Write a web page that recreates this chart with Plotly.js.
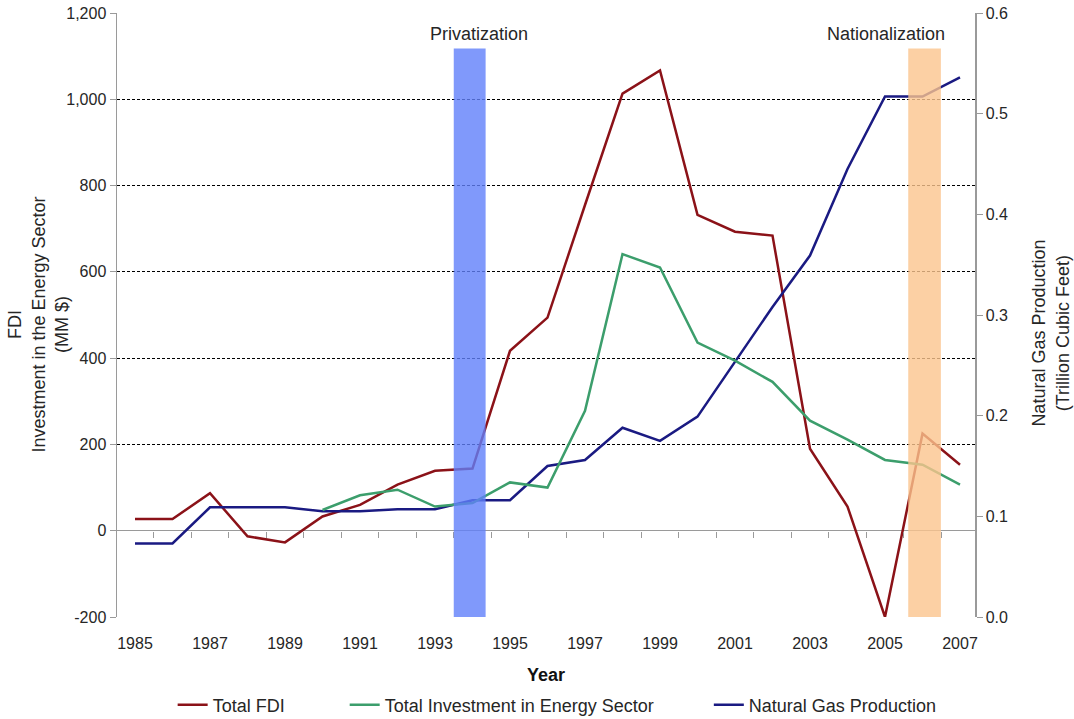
<!DOCTYPE html>
<html>
<head>
<meta charset="utf-8">
<script src="https://cdn.plot.ly/plotly-3.0.1.min.js"></script>
<style>
  html, body { margin: 0; padding: 0; background: #fff; }
  #chart { width: 1074px; height: 719px; }
</style>
</head>
<body>
<div id="chart"></div>
<script>
// Years on the x axis
const years = [1985, 1986, 1987, 1988, 1989, 1990, 1991, 1992, 1993, 1994, 1995,
               1996, 1997, 1998, 1999, 2000, 2001, 2002, 2003, 2004, 2005, 2006, 2007];

// Total foreign direct investment (MM $)
const totalFDI = [27, 27, 87, -13, -27, 33, 60, 107, 139, 144, 417,
                  494, 755, 1013, 1067, 732, 693, 684, 190, 56, -200, 225, 153];

// Total investment in the energy sector (MM $), reported from 1990
const energyInvestment = [null, null, null, null, null, 48, 82, 95, 56, 64, 112,
                          100, 278, 641, 610, 436, 394, 345, 255, 211, 164, 153, 107];

// Natural gas production (trillion cubic feet)
const gasProduction = [0.073, 0.073, 0.109, 0.109, 0.109, 0.105, 0.105, 0.107, 0.107, 0.116, 0.116,
                       0.150, 0.156, 0.188, 0.175, 0.199, 0.253, 0.308, 0.359, 0.445, 0.517, 0.517, 0.536];

// Policy periods highlighted on the chart
const eventNames = ['Privatization', 'Nationalization'];
const eventStart = [1993.5, 2005.62];
const eventEnd = [1994.35, 2006.49];
const eventColors = ['rgba(96,128,250,0.8)', 'rgba(251,196,141,0.8)'];
const eventLabelX = [1994.17, 2005.03];

// Tick labels
const yearTicks = years.filter((y, i) => i % 2 === 0);
const boundaryTicks = years.slice(0, -1).map(y => y + 0.5);
const leftTicks = [-200, 0, 200, 400, 600, 800, 1000, 1200];
const leftTickText = ['-200', '0', '200', '400', '600', '800', '1,000', '1,200'];
const rightTicks = [0, 0.1, 0.2, 0.3, 0.4, 0.5, 0.6];
const rightTickText = ['0.0', '0.1', '0.2', '0.3', '0.4', '0.5', '0.6'];

const font = 'Arial, "Liberation Sans", sans-serif';
const textColor = '#262626';
const axisGray = '#9a9a9a';
const pad = n => '\u00a0'.repeat(n);

const traces = [
  {
    x: years, y: totalFDI, name: 'Total FDI' + pad(11), type: 'scatter', mode: 'lines',
    line: { color: '#8b1218', width: 2.5 }, xaxis: 'x', yaxis: 'y'
  },
  {
    x: years, y: energyInvestment, name: 'Total Investment in Energy Sector' + pad(10), type: 'scatter', mode: 'lines',
    line: { color: '#3c9e6c', width: 2.5 }, xaxis: 'x2', yaxis: 'y'
  },
  {
    x: years, y: gasProduction, name: 'Natural Gas Production', type: 'scatter', mode: 'lines',
    line: { color: '#1a1a82', width: 2.5 }, xaxis: 'x', yaxis: 'y2'
  }
];

const shapes = eventNames.map((n, i) => ({
  type: 'rect', xref: 'x', yref: 'y',
  x0: eventStart[i], x1: eventEnd[i], y0: -207, y1: 1118,
  fillcolor: eventColors[i], line: { width: 0 }, layer: 'above'
}));

const annotations = eventNames.map((n, i) => ({
  text: n, xref: 'x', yref: 'paper', x: eventLabelX[i], y: 0.965,
  xanchor: 'center', yanchor: 'middle', showarrow: false,
  font: { family: font, size: 18, color: textColor }
}));

// Vertical axis titles
annotations.push({
  text: 'FDI<br>Investment in the Energy Sector<br>(MM $)',
  xref: 'paper', yref: 'paper', x: -0.091, y: 0.484, xanchor: 'center', yanchor: 'middle',
  textangle: -90, showarrow: false, font: { family: font, size: 18, color: textColor }
});
annotations.push({
  text: 'Natural Gas Production<br>(Trillion Cubic Feet)',
  xref: 'paper', yref: 'paper', x: 1.088, y: 0.47, xanchor: 'center', yanchor: 'middle',
  textangle: -90, showarrow: false, font: { family: font, size: 18, color: textColor }
});

const xRange = [1984.52, 2007.4];

const layout = {
  width: 1074, height: 719,
  margin: { l: 117, r: 99, t: 13, b: 102 },
  paper_bgcolor: '#fff', plot_bgcolor: '#fff',
  showlegend: true,
  legend: {
    orientation: 'h', xref: 'paper', x: 0.513, xanchor: 'center',
    yref: 'container', y: 14 / 719, yanchor: 'middle',
    font: { family: font, size: 18, color: textColor }, itemwidth: 30,
    traceorder: 'normal'
  },
  xaxis: {
    range: xRange, tickvals: yearTicks, ticktext: yearTicks.map(String),
    showgrid: false, zeroline: false, showline: false, automargin: false,
    ticks: 'outside', ticklen: 12, tickcolor: 'rgba(0,0,0,0)',
    tickfont: { family: font, size: 16, color: textColor },
    title: { text: '<b>Year</b>', standoff: 17, font: { family: font, size: 18, color: '#111' } }
  },
  xaxis2: {
    range: xRange, overlaying: 'x', anchor: 'free', position: 200 / 1400, automargin: false,
    tickvals: boundaryTicks, showticklabels: false, ticks: 'outside', ticklen: 6,
    tickcolor: axisGray, tickwidth: 1, showgrid: false, zeroline: false, showline: false
  },
  yaxis: {
    range: [-200, 1200], tickvals: leftTicks, ticktext: leftTickText, automargin: false,
    showgrid: true, gridcolor: '#000', griddash: '3px,2px', gridwidth: 1,
    zeroline: true, zerolinecolor: axisGray, zerolinewidth: 1.5,
    showline: true, linecolor: axisGray, linewidth: 1.5,
    ticks: 'outside', ticklen: 6, tickcolor: axisGray,
    tickfont: { family: font, size: 16, color: textColor }
  },
  yaxis2: {
    range: [0, 0.6], tickvals: rightTicks, ticktext: rightTickText, automargin: false,
    overlaying: 'y', side: 'right', anchor: 'x',
    showgrid: false, zeroline: false,
    showline: true, linecolor: axisGray, linewidth: 1.5,
    ticks: 'outside', ticklen: 6, tickcolor: axisGray,
    tickfont: { family: font, size: 16, color: textColor }
  },
  shapes: shapes,
  annotations: annotations
};

Plotly.newPlot('chart', traces, layout, { displayModeBar: false, staticPlot: true });
</script>
</body>
</html>
